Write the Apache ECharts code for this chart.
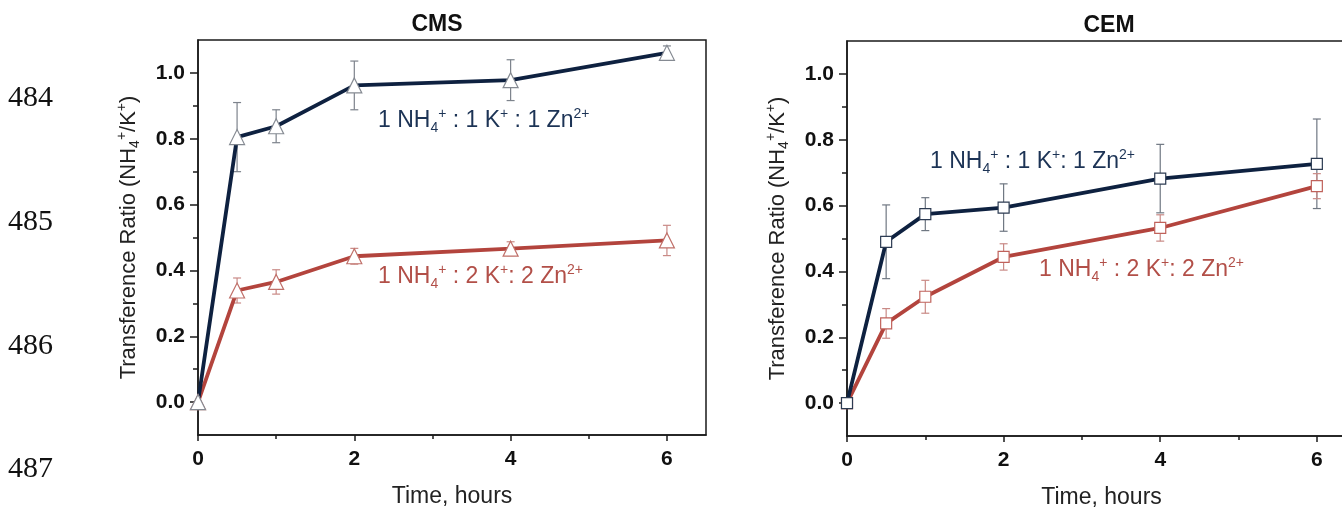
<!DOCTYPE html>
<html>
<head>
<meta charset="utf-8">
<script src="https://cdn.jsdelivr.net/npm/echarts@6/dist/echarts.min.js"></script>
<style>
  html, body { margin: 0; padding: 0; background: #fff; }
  #chart { width: 1342px; height: 509px; }
</style>
</head>
<body>
<div id="chart"></div>
<script>
// sampling times (hours)
var hours = [0, 0.5, 1, 2, 4, 6];

// CMS membrane
var cmsEqual = [0, 0.805, 0.838, 0.962, 0.978, 1.061];
var cmsEqualErr = [0, 0.105, 0.050, 0.074, 0.062, 0.021];
var cmsDouble = [0, 0.339, 0.365, 0.443, 0.466, 0.491];
var cmsDoubleErr = [0, 0.038, 0.037, 0.024, 0.021, 0.046];

// CEM membrane
var cemEqual = [0, 0.490, 0.574, 0.594, 0.682, 0.727];
var cemEqualErr = [0, 0.112, 0.050, 0.072, 0.104, 0.136];
var cemDouble = [0, 0.242, 0.323, 0.444, 0.532, 0.659];
var cemDoubleErr = [0, 0.045, 0.050, 0.040, 0.040, 0.038];

// ticks
var xTicks = [0, 2, 4, 6];
var xMinorTicks = [1, 3, 5];
var yTicks = [0, 0.2, 0.4, 0.6, 0.8, 1.0];
var yMinorTicks = [0.1, 0.3, 0.5, 0.7, 0.9];

var NAVY = '#0e2140';
var RED = '#b3443d';
var FONT = 'Arial, "Liberation Sans", sans-serif';
var SERIF = '"Liberation Serif", "Times New Roman", serif';

function chemRich(size) {
    return {
        sup: { fontSize: size, verticalAlign: 'top', lineHeight: size },
        sub: { fontSize: size, verticalAlign: 'bottom', lineHeight: size }
    };
}

function pairs(xs, ys) {
    return xs.map(function(x, i) { return [x, ys[i]]; });
}

function errRows(xs, ys, es) {
    var rows = [];
    xs.forEach(function(x, i) {
        if (es[i] > 0) rows.push([x, ys[i] - es[i], ys[i] + es[i]]);
    });
    return rows;
}

function errorSeries(axisIdx, xs, ys, es, color) {
    return {
        type: 'custom',
        xAxisIndex: axisIdx,
        yAxisIndex: axisIdx,
        z: 1,
        silent: true,
        data: errRows(xs, ys, es),
        encode: { x: 0, y: [1, 2] },
        renderItem: function(params, api) {
            var x = api.value(0);
            var lo = api.coord([x, api.value(1)]);
            var hi = api.coord([x, api.value(2)]);
            var w = 4;
            var st = { stroke: color, lineWidth: 1.2 };
            return {
                type: 'group',
                children: [
                    { type: 'line', shape: { x1: lo[0], y1: lo[1], x2: hi[0], y2: hi[1] }, style: st },
                    { type: 'line', shape: { x1: hi[0] - w, y1: hi[1], x2: hi[0] + w, y2: hi[1] }, style: st },
                    { type: 'line', shape: { x1: lo[0] - w, y1: lo[1], x2: lo[0] + w, y2: lo[1] }, style: st }
                ]
            };
        }
    };
}

function lineSeries(axisIdx, xs, ys, color, symbol, size, edge) {
    return {
        type: 'line',
        xAxisIndex: axisIdx,
        yAxisIndex: axisIdx,
        z: 3,
        data: pairs(xs, ys),
        symbol: symbol,
        symbolSize: size,
        showAllSymbol: true,
        lineStyle: { color: color, width: 3.8 },
        itemStyle: { color: '#fff', borderColor: edge, borderWidth: 1.2 },
        emphasis: { disabled: true }
    };
}

var axisColor = { color: '#1a1a1a', width: 1.5 };

function mainX(grid) {
    return {
        gridIndex: grid, type: 'value', min: 0, max: 6.5, position: 'bottom',
        name: 'Time, hours', nameLocation: 'middle', nameGap: 50,
        nameTextStyle: { fontFamily: FONT, fontSize: 23, color: '#222' },
        axisLine: { show: true, onZero: false, lineStyle: axisColor },
        axisTick: { show: true, inside: false, length: 6, customValues: xTicks, lineStyle: axisColor },
        axisLabel: { customValues: xTicks, margin: 14, fontFamily: FONT, fontSize: 21, fontWeight: 'bold', color: '#111' },
        splitLine: { show: false }
    };
}

function minorX(grid) {
    return {
        gridIndex: grid, type: 'value', min: 0, max: 6.5, position: 'bottom',
        axisLine: { show: false, onZero: false },
        axisTick: { show: true, length: 4, customValues: xMinorTicks, lineStyle: axisColor },
        axisLabel: { show: false },
        splitLine: { show: false }
    };
}

function mainY(grid) {
    return {
        gridIndex: grid, type: 'value', min: -0.1, max: 1.1, position: 'left',
        name: 'Transference Ratio (NH{sub|4}{sup|+}/K{sup|+})',
        nameLocation: 'middle', nameGap: 56, nameRotate: 90,
        nameTextStyle: { fontFamily: FONT, fontSize: 22, color: '#222', lineHeight: 27, rich: chemRich(14) },
        axisLine: { show: true, onZero: false, lineStyle: axisColor },
        axisTick: { show: true, length: 8, customValues: yTicks, lineStyle: axisColor },
        axisLabel: {
            customValues: yTicks, margin: 13, fontFamily: FONT, fontSize: 21, fontWeight: 'bold', color: '#111',
            formatter: function(v) { return v.toFixed(1); }
        },
        splitLine: { show: false }
    };
}

function minorY(grid) {
    return {
        gridIndex: grid, type: 'value', min: -0.1, max: 1.1, position: 'left',
        axisLine: { show: false, onZero: false },
        axisTick: { show: true, length: 5, customValues: yMinorTicks, lineStyle: axisColor },
        axisLabel: { show: false },
        splitLine: { show: false }
    };
}

function chemText(x, y, str, color) {
    return {
        type: 'text', x: x, y: y, z: 10,
        style: {
            text: str, fill: color, fontFamily: FONT, fontSize: 23, lineHeight: 28,
            verticalAlign: 'middle', rich: chemRich(14)
        }
    };
}

function plainText(x, y, str, font, size, weight, align) {
    return {
        type: 'text', x: x, y: y, z: 10,
        style: {
            text: str, fill: '#111', fontFamily: font, fontSize: size, fontWeight: weight,
            align: align, verticalAlign: 'middle'
        }
    };
}

var myChart = echarts.init(document.getElementById('chart'), null, { renderer: 'canvas' });

var options = {
    animation: false,
    backgroundColor: '#fff',
    grid: [
        { left: 198, top: 40, width: 508, height: 395, show: true, borderColor: '#1a1a1a', borderWidth: 1.5, outerBoundsMode: 'none' },
        { left: 847, top: 41, width: 509, height: 395, show: true, borderColor: '#1a1a1a', borderWidth: 1.5, outerBoundsMode: 'none' }
    ],
    xAxis: [mainX(0), minorX(0), mainX(1), minorX(1)],
    yAxis: [mainY(0), minorY(0), mainY(1), minorY(1)],
    series: [
        errorSeries(0, hours, cmsEqual, cmsEqualErr, '#7d838c'),
        errorSeries(0, hours, cmsDouble, cmsDoubleErr, '#c98a86'),
        lineSeries(0, hours, cmsDouble, RED, 'triangle', 15, '#c0706a'),
        lineSeries(0, hours, cmsEqual, NAVY, 'triangle', 15, '#858a92'),
        errorSeries(2, hours, cemEqual, cemEqualErr, '#6f7782'),
        errorSeries(2, hours, cemDouble, cemDoubleErr, '#c98a86'),
        lineSeries(2, hours, cemDouble, RED, 'rect', 11, '#c0625b'),
        lineSeries(2, hours, cemEqual, NAVY, 'rect', 11, '#2c3b52')
    ],
    graphic: [
        plainText(437, 25, 'CMS', FONT, 23, 'bold', 'center'),
        plainText(1109, 26, 'CEM', FONT, 23, 'bold', 'center'),
        // line numbers from the manuscript margin
        plainText(8, 98, '484', SERIF, 30, 'normal', 'left'),
        plainText(8, 222, '485', SERIF, 30, 'normal', 'left'),
        plainText(8, 346, '486', SERIF, 30, 'normal', 'left'),
        plainText(8, 469, '487', SERIF, 30, 'normal', 'left'),
        chemText(378, 121, '1 NH{sub|4}{sup|+} : 1 K{sup|+} : 1 Zn{sup|2+}', '#1c3355'),
        chemText(378, 277, '1 NH{sub|4}{sup|+} : 2 K{sup|+}: 2 Zn{sup|2+}', '#b24f48'),
        chemText(930, 162, '1 NH{sub|4}{sup|+} : 1 K{sup|+}: 1 Zn{sup|2+}', '#1c3355'),
        chemText(1039, 270, '1 NH{sub|4}{sup|+} : 2 K{sup|+}: 2 Zn{sup|2+}', '#b24f48')
    ]
};
myChart.setOption(options);
</script>
</body>
</html>
